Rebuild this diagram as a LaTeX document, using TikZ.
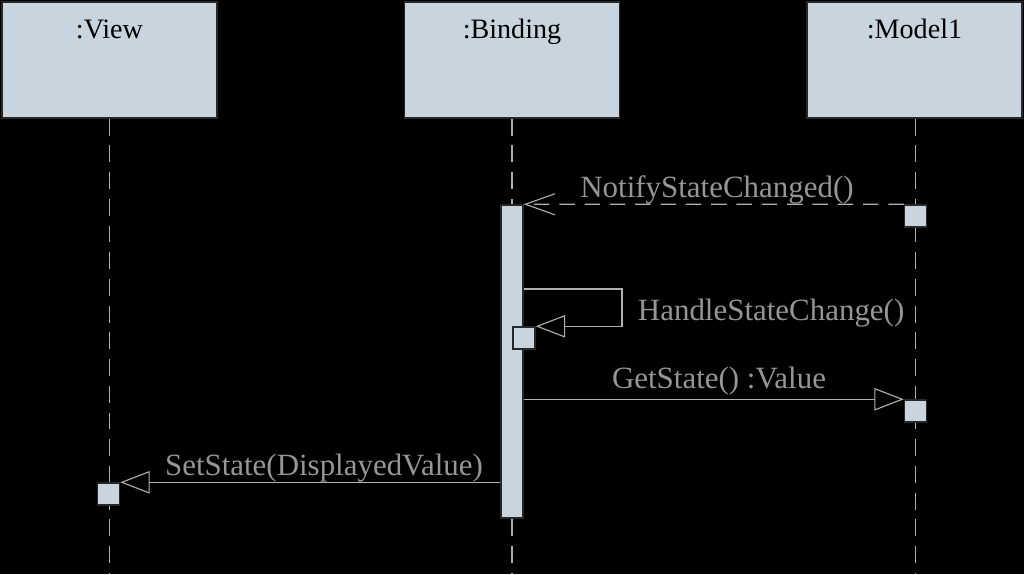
\documentclass[tikz,border=0pt]{standalone}
\usepackage{fontspec}
\setmainfont{Liberation Serif}
\usetikzlibrary{arrows.meta, positioning}
\definecolor{boxfill}{RGB}{200, 212, 222}
\definecolor{boxborder}{RGB}{40, 40, 40}
\definecolor{linegray}{RGB}{175, 175, 175}
\definecolor{labelgray}{RGB}{150, 150, 150}

\begin{document}
\begin{tikzpicture}[
    x=0.025cm, y=-0.025cm,
    objbox/.style={rectangle, draw=boxborder, fill=boxfill, minimum width=5.375cm, minimum height=2.9cm, line width=1pt},
    objtitle/.style={anchor=base, font=\fontsize{20}{24}\selectfont, text=black},
    actbox/.style={rectangle, draw=boxborder, fill=boxfill, minimum width=0.55cm, minimum height=0.55cm, inner sep=0pt, line width=1pt},
    lifeline/.style={draw=linegray, line width=0.8pt, dash pattern=on 12pt off 7pt},
    call/.style={-{Triangle[open, length=21pt, width=16pt]}, draw=linegray, line width=0.8pt},
    reply/.style={-{Straight Barb[length=21pt, width=15pt]}, draw=linegray, line width=0.8pt, dash pattern=on 11pt off 7pt},
    msg/.style={anchor=base, font=\fontsize{22}{26}\selectfont, text=labelgray},
]

% Background
\fill[black] (0, 0) rectangle (1024, 574);
\useasboundingbox (0, 0) rectangle (1024, 574);

% Objects
\node[objbox] (view) at (109.5, 60) {};
\node[objtitle] (viewtitle) at (109.5, 38) {:View};
\node[objbox] (binding) at (512, 60) {};
\node[objtitle] (bindingtitle) at (512, 38) {:Binding};
\node[objbox] (model) at (914.5, 60) {};
\node[objtitle] (modeltitle) at (914.5, 38) {:Model1};

% Lifelines
\coordinate (viewend) at (109.5, 574);
\coordinate (bindingend) at (512, 574);
\coordinate (modelend) at (915.5, 574);
\draw[lifeline] (view.south) -- (viewend);
\draw[lifeline] (binding.south) -- (bindingend);
\draw[lifeline] (model.south -| modelend) -- (modelend);

% Activations
\node[actbox, minimum height=7.825cm] (bindingbar) at (512, 361.5) {};
\node[actbox] (modelact1) at (915.5, 216) {};
\node[actbox] (bindingact) at (524, 338) {};
\node[actbox] (modelact2) at (915.5, 411) {};
\node[actbox] (viewact) at (108.5, 494) {};

% Messages
\draw[reply] (modelact1.north west) -- (bindingbar.north east);
\node[msg] (notifylabel) at (717, 197) {NotifyStateChanged()};

\coordinate (selfturn) at (622, 289);
\draw[call] (bindingbar.east |- selfturn) -- (selfturn) |- (bindingact.north east);
\node[msg, anchor=base west] (handlelabel) at (633, 320) {HandleStateChange()};

\draw[call] (bindingbar.east |- modelact2.north west) -- (modelact2.north west);
\node[msg] (getlabel) at (719, 388) {GetState() :Value};

\draw[call] (bindingbar.west |- viewact.north east) -- (viewact.north east);
\node[msg] (setlabel) at (324, 475) {SetState(DisplayedValue)};

\end{tikzpicture}
\end{document}
